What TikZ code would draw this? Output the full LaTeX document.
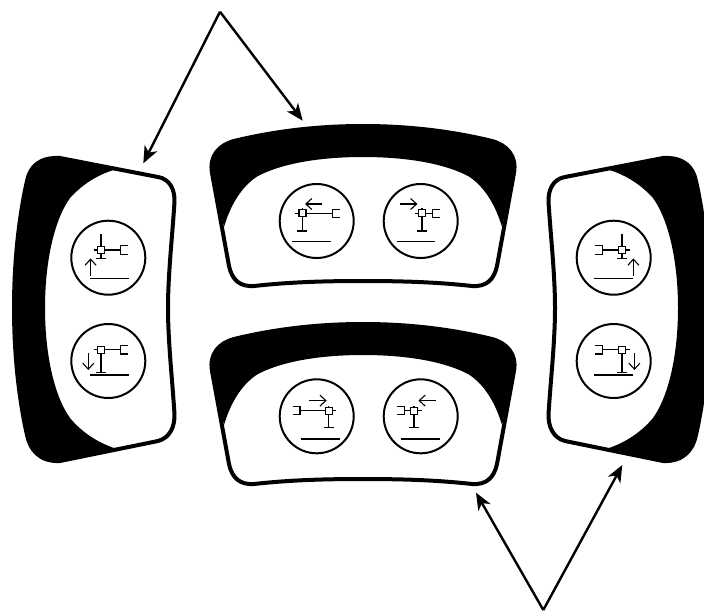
\documentclass[tikz,border=0pt]{standalone}
\usepackage{tikz}
\usetikzlibrary{
    arrows.meta
}

% outline and black cap of the wide housing
\newcommand{\wideoutline}{
    (363,126) .. controls (318,126) and (275,131) .. (234,141)
    .. controls (219,145) and (209,156) .. (212,173)
    -- (229,266) .. controls (232,280) and (240,287) .. (254,286)
    .. controls (290,282) and (325,281) .. (363,281)
    .. controls (401,281) and (436,282) .. (472,286)
    .. controls (486,287) and (494,280) .. (497,266)
    -- (514,173) .. controls (517,156) and (507,145) .. (492,141)
    .. controls (451,131) and (408,126) .. (363,126) -- cycle
}
\newcommand{\widecap}{
    (224,227) -- (212,173) .. controls (209,156) and (219,145) .. (234,141)
    .. controls (275,131) and (318,126) .. (363,126)
    .. controls (408,126) and (451,131) .. (492,141)
    .. controls (507,145) and (517,156) .. (514,173)
    -- (502,227) .. controls (494,200) and (481,184) .. (468,176)
    .. controls (441,162) and (401,157) .. (363,157)
    .. controls (325,157) and (285,162) .. (258,176)
    .. controls (245,184) and (232,200) .. (224,227) -- cycle
}
% outline and black cap of the side housing
\newcommand{\sideoutline}{
    (60,158) -- (158,177) .. controls (170,179) and (175,190) .. (174.5,202)
    .. controls (172,240) and (168,275) .. (168,308)
    .. controls (168,341) and (172,376) .. (174.5,414)
    .. controls (175,426) and (170,438) .. (158,441)
    -- (60,461) .. controls (40,462) and (30,450) .. (27,435)
    .. controls (18,395) and (14,350) .. (14,308)
    .. controls (14,266) and (18,221) .. (27,181)
    .. controls (30,166) and (40,157) .. (60,158) -- cycle
}
\newcommand{\sidecap}{
    (60,158) -- (117,169) .. controls (95,175) and (80,187) .. (70,198)
    .. controls (53,222) and (45,265) .. (45,308)
    .. controls (45,351) and (53,394) .. (70,418)
    .. controls (80,430) and (95,442) .. (117,449)
    -- (60,461) .. controls (40,462) and (30,450) .. (27,435)
    .. controls (18,395) and (14,350) .. (14,308)
    .. controls (14,266) and (18,221) .. (27,181)
    .. controls (30,166) and (40,157) .. (60,158) -- cycle
}
% square x, square y, side of the fork (1 or -1), fork x, stem top y, stem end y
\newcommand{\jointmark}[6]{
    \draw[glyph] (#1,#6) -- (#1,#5);
    \draw[glyph] (#1-5,#6) -- (#1+5,#6);
    \draw[glyph] (#1,#2) -- (#4,#2);
    \draw[glyph] (#4+#3*7.5,#2-4.2) -| (#4,#2+4.2) -- (#4+#3*7.5,#2+4.2);
    \draw[glyph] (#1-#3*7.5,#2) -- (#1,#2);
    \draw[glyph, fill=white] (#1-3.5,#2-3.5) rectangle (#1+3.5,#2+3.5);
}

\begin{document}
\begin{tikzpicture}[
        x=1pt,
        y=-1pt,
        housing/.style={
            draw=black,
            fill=white,
            line width=4pt,
            line join=round
        },
        dial/.style={
            circle,
            draw=black,
            fill=white,
            line width=2pt,
            minimum size=74pt,
            inner sep=0pt
        },
        glyph/.style={
            draw=black,
            line width=1.2pt
        },
        motion/.style={
            -{Straight Barb[length=6pt,width=11pt]},
            draw=black,
            line width=1.1pt
        },
        pointer/.style={
            -{Stealth[length=17pt,width=14pt,inset=5pt]},
            draw=black,
            line width=2.4pt
        }
    ]

    \clip (0,0) rectangle (704,611);

    % housings
    \draw[housing] \wideoutline;
    \fill[black] \widecap;
    \begin{scope}[yshift=-198pt]
        \draw[housing] \wideoutline;
        \fill[black] \widecap;
    \end{scope}
    \draw[housing] \sideoutline;
    \fill[black] \sidecap;
    \begin{scope}[xshift=723pt, xscale=-1]
        \draw[housing] \sideoutline;
        \fill[black] \sidecap;
    \end{scope}

    % dials
    \node[dial] (dialwa) at (316.7,221) {};
    \node[dial] (dialwb) at (420.7,221) {};
    \node[dial] (dialwc) at (316.7,416.3) {};
    \node[dial] (dialwd) at (420.7,416.3) {};
    \node[dial] (dialla) at (108.3,257.7) {};
    \node[dial] (diallb) at (108.3,361) {};
    \node[dial] (dialra) at (613.7,257.7) {};
    \node[dial] (dialrb) at (613.7,361) {};

    \begin{scope}[shift={(dialwa.center)}]
        \jointmark{-14.3}{-7.7}{1}{15.5}{-12.7}{10}
        \draw[glyph] (-25,20.7) -- (14,20.7);
        \draw[motion] (5.7,-17) -- (-11.7,-17);
    \end{scope}
    \begin{scope}[shift={(dialwb.center)}]
        \jointmark{1.3}{-7.7}{1}{11.7}{-12.7}{10}
        \draw[glyph] (-24,20.7) -- (14.3,20.7);
        \draw[motion] (-20.7,-17) -- (-3.3,-17);
    \end{scope}
    \begin{scope}[shift={(dialwc.center)}]
        \jointmark{12}{-5.7}{-1}{-16.7}{-10.7}{11}
        \draw[glyph] (-16,22.7) -- (23.3,22.7);
        \draw[motion] (-7.7,-15.7) -- (10,-15.7);
    \end{scope}
    \begin{scope}[shift={(dialwd.center)}]
        \jointmark{-6.7}{-5.7}{-1}{-16.3}{-10.7}{11}
        \draw[glyph] (-19.7,22.7) -- (19.3,22.7);
        \draw[motion] (15,-15.7) -- (-2.3,-15.7);
    \end{scope}
    \begin{scope}[shift={(dialla.center)}]
        \jointmark{-7.3}{-7.7}{1}{12.3}{-23.3}{0.7}
        \draw[glyph] (-18.3,20.7) -- (20.7,20.7);
        \draw[motion] (-17.7,18) -- (-17.7,0.7);
    \end{scope}
    \begin{scope}[shift={(diallb.center)}]
        \jointmark{-7.3}{-11.3}{1}{12.3}{-14.6}{11.3}
        \draw[glyph] (-18.3,14) -- (20.7,14);
        \draw[motion] (-20,-8.3) -- (-20,9);
    \end{scope}
    \begin{scope}[shift={(dialra.center)}]
        \jointmark{8.3}{-7.7}{-1}{-11}{-23.3}{0.7}
        \draw[glyph] (-19.3,20.7) -- (19.7,20.7);
        \draw[motion] (19.7,18) -- (19.7,0.7);
    \end{scope}
    \begin{scope}[shift={(dialrb.center)}]
        \jointmark{8.3}{-11.3}{-1}{-11}{-14.6}{11.3}
        \draw[glyph] (-19.3,14) -- (19.7,14);
        \draw[motion] (20.7,-8.3) -- (20.7,9);
    \end{scope}

    % pointers
    \coordinate (apextop) at (220,11.7);
    \coordinate (tipside) at (143.3,163.3);
    \coordinate (tipwide) at (302.7,120.7);
    \coordinate (apexlow) at (543.3,610);
    \coordinate (tipbase) at (476,492.7);
    \coordinate (tipedge) at (622.3,465);

    \draw[pointer] (apextop) -- (tipside);
    \draw[pointer] (apextop) -- (tipwide);
    \draw[pointer] (apexlow) -- (tipbase);
    \draw[pointer] (apexlow) -- (tipedge);

\end{tikzpicture}
\end{document}
